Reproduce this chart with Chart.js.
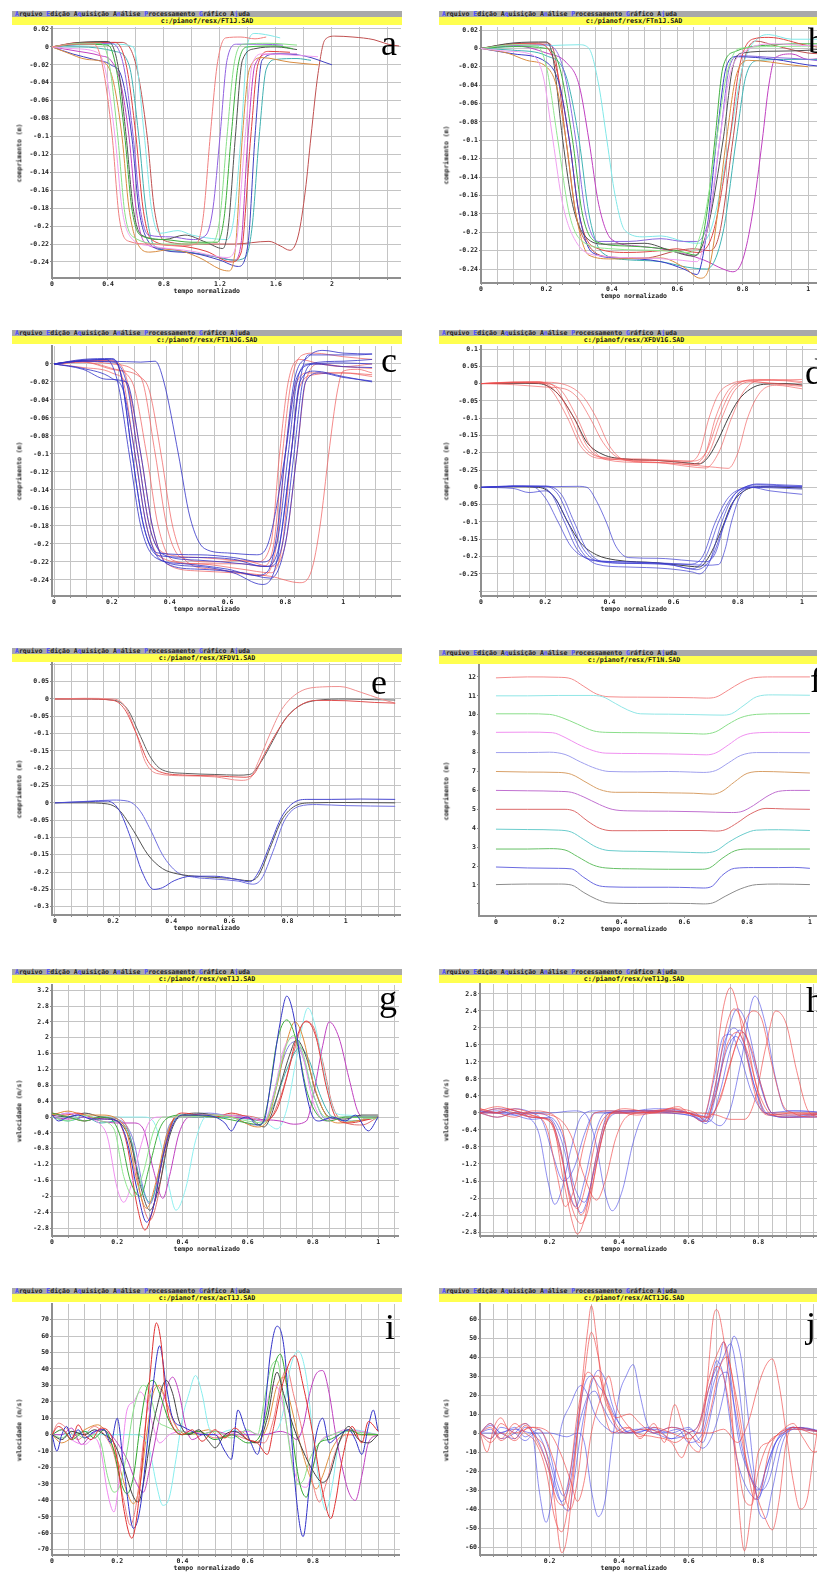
<!DOCTYPE html>
<html>
<head>
<meta charset="utf-8">
<script src="https://cdn.jsdelivr.net/npm/chart.js@4.4.0/dist/chart.umd.min.js"></script>
<style>
  html, body { margin: 0; padding: 0; background: #fff; }
  body { width: 817px; height: 1572px; overflow: hidden; position: relative; }
  .menu { position: absolute; width: 390px; height: 6px; background: #a9a9a9; font: bold 6.5px 'DejaVu Sans Mono', monospace; line-height: 6px; color: #222; white-space: pre; padding-left: 3px; box-sizing: border-box; }
  .menu b { color: #4a4aff; }
  .file { position: absolute; width: 390px; height: 8px; background: #ffff50; font: bold 6.7px 'DejaVu Sans Mono', monospace; line-height: 8px; text-align: center; color: #111; }
  canvas { position: absolute; }
  .xtitle, .ytitle { position: absolute; font: bold 6.5px 'DejaVu Sans Mono', monospace; line-height: 8px; color: #222; white-space: nowrap; }
  .letter { position: absolute; font: 36px 'Liberation Serif', 'Times New Roman', serif; line-height: 1; color: #000; }
</style>
</head>
<body>
<script>
// ---- comprimento (m) x tempo normalizado, FT1J ----
const xLabelsA = [0, 0.4, 0.8, 1.2, 1.6, 2];
const yLabelsA = [0.02, 0, -0.02, -0.04, -0.06, -0.08, -0.1, -0.12, -0.14, -0.16, -0.18, -0.2, -0.22, -0.24];
const lenA = [
  [0,0, 0.15,0.003, 0.3,0.003, 0.36,-0.02, 0.43,-0.1, 0.48,-0.19, 0.55,-0.217, 0.7,-0.22, 0.9,-0.222, 1.03,-0.22, 1.08,-0.19, 1.13,-0.1, 1.18,-0.02, 1.24,0.01, 1.35,0.011, 1.45,0.009, 1.53,0.011],
  [0,0, 0.15,-0.002, 0.32,-0.006, 0.38,-0.025, 0.45,-0.1, 0.5,-0.18, 0.56,-0.212, 0.7,-0.222, 1.0,-0.228, 1.25,-0.235, 1.31,-0.225, 1.38,-0.1, 1.43,-0.02, 1.5,-0.008, 1.7,-0.009, 1.9,-0.011],
  [0,0, 0.2,0.004, 0.35,0.004, 0.41,-0.02, 0.47,-0.1, 0.52,-0.185, 0.58,-0.212, 0.8,-0.22, 1.0,-0.22, 1.15,-0.218, 1.2,-0.19, 1.25,-0.1, 1.3,-0.02, 1.37,0.003, 1.55,0.004, 1.75,0.002],
  [0,0, 0.1,-0.006, 0.25,-0.014, 0.38,-0.018, 0.44,-0.04, 0.5,-0.1, 0.55,-0.18, 0.62,-0.222, 0.7,-0.229, 0.85,-0.226, 1.05,-0.235, 1.2,-0.248, 1.26,-0.25, 1.31,-0.225, 1.36,-0.1, 1.41,-0.025, 1.5,-0.012, 1.7,-0.017, 1.9,-0.02],
  [0,0, 0.2,0.003, 0.4,0.002, 0.46,-0.025, 0.52,-0.1, 0.57,-0.18, 0.63,-0.21, 0.8,-0.215, 1.0,-0.218, 1.18,-0.218, 1.23,-0.19, 1.28,-0.1, 1.33,-0.02, 1.4,0.0, 1.6,0.001, 1.72,-0.002],
  [0,0, 0.2,0.005, 0.4,0.006, 0.47,-0.02, 0.53,-0.1, 0.58,-0.18, 0.64,-0.21, 0.8,-0.215, 0.95,-0.21, 1.1,-0.218, 1.22,-0.225, 1.26,-0.2, 1.31,-0.1, 1.36,-0.015, 1.45,-0.002, 1.6,0.0, 1.75,-0.003],
  [0,0, 0.15,-0.008, 0.3,-0.014, 0.42,-0.02, 0.5,-0.035, 0.57,-0.1, 0.62,-0.18, 0.68,-0.215, 0.8,-0.227, 1.0,-0.23, 1.2,-0.238, 1.33,-0.245, 1.4,-0.22, 1.45,-0.1, 1.5,-0.015, 1.6,-0.008, 1.8,-0.01, 2.0,-0.02],
  [0,0, 0.2,0.003, 0.42,0.004, 0.51,-0.02, 0.58,-0.1, 0.63,-0.18, 0.69,-0.21, 0.85,-0.212, 1.0,-0.215, 1.1,-0.21, 1.15,-0.18, 1.2,-0.1, 1.25,-0.015, 1.32,0.003, 1.5,0.003, 1.65,0.002],
  [0,0, 0.2,0.005, 0.45,0.005, 0.53,-0.02, 0.6,-0.1, 0.65,-0.18, 0.71,-0.215, 0.9,-0.222, 1.1,-0.228, 1.28,-0.24, 1.35,-0.23, 1.42,-0.1, 1.47,-0.02, 1.55,-0.005, 1.7,-0.006],
  [0,0, 0.2,0.002, 0.45,0.003, 0.58,0.0, 0.66,-0.1, 0.71,-0.18, 0.77,-0.208, 0.9,-0.205, 1.0,-0.21, 1.1,-0.213, 1.25,-0.215, 1.3,-0.19, 1.35,-0.1, 1.4,0.005, 1.45,0.015, 1.55,0.013, 1.63,0.01],
  [0,0, 0.2,0.0, 0.45,-0.005, 0.55,-0.02, 0.62,-0.1, 0.67,-0.18, 0.73,-0.222, 0.9,-0.228, 1.1,-0.232, 1.3,-0.238, 1.38,-0.235, 1.43,-0.2, 1.48,-0.1, 1.53,-0.025, 1.6,-0.014, 1.75,-0.013, 1.85,-0.015],
  [0,0, 0.2,0.004, 0.5,0.005, 0.6,-0.02, 0.68,-0.1, 0.73,-0.18, 0.8,-0.216, 1.0,-0.22, 1.3,-0.22, 1.55,-0.217, 1.63,-0.222, 1.7,-0.227, 1.76,-0.21, 1.81,-0.16, 1.85,-0.1, 1.9,-0.03, 1.95,0.008, 2.02,0.012, 2.15,0.011, 2.3,0.008, 2.4,0.003, 2.48,0.001],
  [0,0, 0.15,-0.004, 0.35,-0.01, 0.42,-0.015, 0.49,-0.04, 0.55,-0.1, 0.6,-0.18, 0.66,-0.218, 0.8,-0.225, 1.0,-0.23, 1.2,-0.235, 1.3,-0.238, 1.35,-0.22, 1.4,-0.1, 1.45,-0.02, 1.55,-0.008, 1.75,-0.008]
];
const colorsA = ['#f08080', '#f0a0f0', '#88e088', '#d98c40', '#3cb03c', '#505050', '#4040c0', '#9060e0', '#e04040', '#80e8e8', '#40b0b0', '#c05050', '#c040c0'];

// ---- FTn1J ----
const xLabelsB = [0, 0.2, 0.4, 0.6, 0.8, 1];
const yLabelsB = yLabelsA;
const lenB = [
  [0,0, 0.08,-0.003, 0.15,-0.006, 0.19,-0.03, 0.22,-0.1, 0.25,-0.17, 0.29,-0.21, 0.35,-0.225, 0.5,-0.228, 0.6,-0.23, 0.66,-0.232, 0.69,-0.2, 0.73,-0.1, 0.76,-0.03, 0.8,-0.005, 0.9,0.005, 1.0,0.003, 1.06,0.004],
  [0,0, 0.1,0.004, 0.17,0.003, 0.2,-0.02, 0.235,-0.1, 0.27,-0.18, 0.31,-0.21, 0.4,-0.218, 0.55,-0.22, 0.64,-0.222, 0.68,-0.19, 0.72,-0.1, 0.75,-0.03, 0.79,0.0, 0.9,0.002, 1.06,0.003],
  [0,0, 0.08,-0.005, 0.14,-0.013, 0.2,-0.02, 0.23,-0.04, 0.26,-0.1, 0.29,-0.18, 0.33,-0.225, 0.4,-0.229, 0.55,-0.228, 0.62,-0.238, 0.67,-0.25, 0.7,-0.235, 0.75,-0.1, 0.78,-0.03, 0.82,-0.013, 0.95,-0.018, 1.0,-0.02],
  [0,0, 0.1,0.006, 0.2,0.007, 0.22,-0.01, 0.25,-0.1, 0.28,-0.17, 0.32,-0.205, 0.38,-0.213, 0.5,-0.212, 0.58,-0.22, 0.65,-0.226, 0.69,-0.2, 0.74,-0.1, 0.77,-0.02, 0.8,-0.005, 0.9,-0.003, 1.0,-0.002, 1.06,0.0],
  [0,0, 0.1,-0.006, 0.2,-0.015, 0.24,-0.04, 0.27,-0.1, 0.3,-0.18, 0.34,-0.222, 0.42,-0.228, 0.55,-0.232, 0.62,-0.24, 0.66,-0.246, 0.69,-0.2, 0.72,-0.1, 0.75,-0.02, 0.78,-0.009, 0.9,-0.012, 1.0,-0.018, 1.06,-0.02],
  [0,0, 0.1,0.005, 0.17,0.005, 0.22,-0.01, 0.27,-0.1, 0.3,-0.18, 0.34,-0.215, 0.45,-0.222, 0.55,-0.22, 0.6,-0.218, 0.66,-0.222, 0.71,-0.2, 0.76,-0.1, 0.79,-0.02, 0.83,0.01, 0.88,0.012, 1.0,0.003, 1.06,0.0],
  [0,0, 0.1,0.002, 0.2,0.0, 0.24,-0.02, 0.28,-0.1, 0.31,-0.18, 0.35,-0.21, 0.45,-0.215, 0.6,-0.22, 0.66,-0.225, 0.69,-0.18, 0.715,-0.1, 0.74,-0.02, 0.78,-0.003, 0.9,0.004, 1.0,0.005, 1.06,0.005],
  [0,0, 0.1,0.003, 0.2,0.004, 0.25,-0.02, 0.29,-0.1, 0.32,-0.18, 0.36,-0.21, 0.45,-0.21, 0.55,-0.207, 0.62,-0.21, 0.66,-0.21, 0.7,-0.18, 0.73,-0.1, 0.76,-0.02, 0.79,-0.008, 0.9,-0.01, 1.0,-0.012, 1.06,-0.015],
  [0,0, 0.1,-0.002, 0.2,-0.008, 0.26,-0.03, 0.3,-0.1, 0.33,-0.18, 0.37,-0.222, 0.45,-0.23, 0.55,-0.232, 0.63,-0.238, 0.69,-0.24, 0.74,-0.2, 0.78,-0.1, 0.81,-0.03, 0.85,-0.013, 0.95,-0.012, 1.06,-0.012],
  [0,0, 0.1,0.003, 0.2,-0.005, 0.26,-0.015, 0.3,-0.04, 0.33,-0.1, 0.36,-0.17, 0.4,-0.208, 0.48,-0.215, 0.58,-0.22, 0.68,-0.23, 0.74,-0.24, 0.77,-0.243, 0.8,-0.23, 0.83,-0.18, 0.86,-0.1, 0.88,-0.04, 0.9,-0.01, 0.95,-0.006, 1.0,-0.012, 1.06,-0.01],
  [0,0, 0.1,0.002, 0.2,0.003, 0.3,0.004, 0.33,0.0, 0.36,-0.04, 0.385,-0.1, 0.41,-0.16, 0.44,-0.198, 0.5,-0.205, 0.55,-0.204, 0.62,-0.21, 0.66,-0.212, 0.7,-0.2, 0.76,-0.1, 0.8,-0.02, 0.85,0.012, 0.88,0.015, 0.95,0.01, 1.06,0.01],
  [0,0, 0.1,0.005, 0.2,0.006, 0.22,0.0, 0.26,-0.1, 0.29,-0.18, 0.33,-0.215, 0.4,-0.227, 0.5,-0.228, 0.6,-0.22, 0.65,-0.218, 0.7,-0.22, 0.73,-0.2, 0.77,-0.1, 0.8,-0.02, 0.84,0.008, 0.9,0.003, 1.0,-0.005, 1.06,-0.006]
];
const colorsB = ['#f0a0f0', '#90e890', '#d98c40', '#505050', '#3a3ac8', '#e04848', '#40b040', '#8c6ce0', '#40b4b4', '#c040c0', '#80e8e8', '#c05050'];

// ---- FT1NJG: azul / vermelho ----
const xLabelsC = [0, 0.2, 0.4, 0.6, 0.8, 1];
const yLabelsC = [0, -0.02, -0.04, -0.06, -0.08, -0.1, -0.12, -0.14, -0.16, -0.18, -0.2, -0.22, -0.24];
const lenC = [
  [0,0, 0.1,0.004, 0.18,0.005, 0.22,-0.02, 0.26,-0.1, 0.3,-0.18, 0.35,-0.215, 0.45,-0.222, 0.6,-0.228, 0.7,-0.235, 0.74,-0.23, 0.77,-0.19, 0.8,-0.1, 0.83,-0.02, 0.88,0.008, 0.93,0.015, 1.0,0.012, 1.1,0.011],
  [0,0, 0.1,0.005, 0.2,0.006, 0.23,-0.01, 0.27,-0.1, 0.31,-0.18, 0.36,-0.21, 0.5,-0.212, 0.62,-0.215, 0.72,-0.22, 0.77,-0.2, 0.81,-0.1, 0.84,-0.02, 0.88,0.0, 1.0,0.003, 1.1,0.005],
  [0,0, 0.1,-0.005, 0.2,-0.016, 0.24,-0.03, 0.28,-0.1, 0.32,-0.18, 0.37,-0.218, 0.5,-0.225, 0.62,-0.232, 0.72,-0.245, 0.77,-0.22, 0.82,-0.1, 0.85,-0.02, 0.9,-0.008, 1.0,-0.014, 1.1,-0.02],
  [0,0, 0.1,0.003, 0.2,0.002, 0.25,-0.02, 0.29,-0.1, 0.33,-0.18, 0.38,-0.212, 0.5,-0.218, 0.65,-0.222, 0.74,-0.225, 0.79,-0.2, 0.83,-0.1, 0.86,-0.02, 0.9,0.0, 1.0,-0.003, 1.1,-0.004],
  [0,0, 0.1,-0.006, 0.18,-0.017, 0.25,-0.02, 0.3,-0.1, 0.34,-0.18, 0.39,-0.222, 0.5,-0.228, 0.65,-0.232, 0.75,-0.238, 0.8,-0.2, 0.84,-0.1, 0.87,-0.02, 0.92,-0.01, 1.0,-0.015, 1.1,-0.019],
  [0,0, 0.1,0.003, 0.2,0.003, 0.3,0.002, 0.35,0.003, 0.38,-0.02, 0.43,-0.1, 0.47,-0.17, 0.52,-0.205, 0.6,-0.21, 0.7,-0.212, 0.74,-0.2, 0.8,-0.1, 0.84,-0.015, 0.9,0.0, 1.0,0.001, 1.1,0.0],
  [0,0, 0.1,0.004, 0.2,0.005, 0.23,-0.01, 0.27,-0.1, 0.31,-0.18, 0.36,-0.213, 0.5,-0.215, 0.62,-0.217, 0.73,-0.225, 0.78,-0.2, 0.82,-0.1, 0.85,-0.02, 0.88,0.01, 0.95,0.01, 1.05,0.01, 1.1,0.011],
  [0,0, 0.1,0.003, 0.2,0.004, 0.24,-0.02, 0.28,-0.1, 0.32,-0.18, 0.37,-0.215, 0.5,-0.222, 0.65,-0.222, 0.72,-0.225, 0.76,-0.2, 0.79,-0.1, 0.82,-0.02, 0.86,0.01, 0.9,0.012, 1.0,0.008, 1.1,0.005],
  [0,0, 0.1,-0.004, 0.2,-0.01, 0.26,-0.03, 0.3,-0.1, 0.34,-0.18, 0.39,-0.222, 0.5,-0.23, 0.62,-0.232, 0.72,-0.235, 0.77,-0.2, 0.8,-0.1, 0.83,-0.03, 0.88,-0.01, 1.0,-0.01, 1.1,-0.012],
  [0,0, 0.1,0.002, 0.2,-0.005, 0.27,-0.02, 0.32,-0.1, 0.36,-0.18, 0.41,-0.218, 0.5,-0.222, 0.65,-0.228, 0.75,-0.232, 0.79,-0.2, 0.82,-0.1, 0.85,-0.025, 0.9,-0.012, 1.0,-0.01, 1.1,-0.014],
  [0,0, 0.1,0.003, 0.2,0.0, 0.3,-0.015, 0.35,-0.1, 0.39,-0.18, 0.44,-0.215, 0.55,-0.22, 0.65,-0.218, 0.75,-0.225, 0.8,-0.2, 0.84,-0.1, 0.87,-0.02, 0.92,0.0, 1.0,-0.003, 1.1,-0.005],
  [0,0, 0.1,0.002, 0.2,-0.006, 0.3,-0.015, 0.33,-0.03, 0.37,-0.1, 0.41,-0.18, 0.46,-0.22, 0.55,-0.228, 0.65,-0.232, 0.75,-0.236, 0.85,-0.243, 0.89,-0.23, 0.92,-0.18, 0.95,-0.1, 0.98,-0.03, 1.0,-0.008, 1.05,-0.006, 1.1,-0.01],
  [0,0, 0.1,0.004, 0.2,0.003, 0.25,-0.015, 0.29,-0.1, 0.33,-0.18, 0.38,-0.21, 0.5,-0.215, 0.62,-0.218, 0.7,-0.22, 0.75,-0.2, 0.78,-0.1, 0.81,-0.02, 0.85,0.005, 0.92,0.0, 1.0,-0.003, 1.1,0.0]
];
const colorsC = ['rgba(50,50,200,0.8)', 'rgba(50,50,200,0.8)', 'rgba(50,50,200,0.8)', 'rgba(50,50,200,0.8)', 'rgba(50,50,200,0.8)', 'rgba(50,50,200,0.8)', 'rgba(50,50,200,0.8)',
                 'rgba(240,90,90,0.7)', 'rgba(240,90,90,0.7)', 'rgba(240,90,90,0.7)', 'rgba(240,90,90,0.7)', 'rgba(240,90,90,0.7)', 'rgba(240,90,90,0.7)'];

// ---- XFDV1G: grupo de cima e grupo de baixo (deslocado de -0.3) ----
const GROUP_SHIFT = -0.3;
const xLabelsD = [0, 0.2, 0.4, 0.6, 0.8, 1];
const yTicksD = [0.1, 0.05, 0, -0.05, -0.1, -0.15, -0.2, -0.25, -0.3, -0.35, -0.4, -0.45, -0.5, -0.55];
const yTextD = ['0.1', '0.05', '0', '-0.05', '-0.1', '-0.15', '-0.2', '-0.25', '0', '-0.05', '-0.1', '-0.15', '-0.2', '-0.25'];
const lenDUpper = [
  [0,0, 0.1,0.003, 0.18,0.004, 0.22,-0.02, 0.27,-0.1, 0.31,-0.18, 0.36,-0.215, 0.45,-0.22, 0.55,-0.222, 0.65,-0.225, 0.68,-0.2, 0.71,-0.1, 0.74,-0.03, 0.78,0.0, 0.82,0.008, 0.9,0.01, 1.0,0.012],
  [0,0, 0.1,0.005, 0.18,0.006, 0.23,-0.02, 0.29,-0.1, 0.33,-0.18, 0.38,-0.215, 0.5,-0.222, 0.6,-0.225, 0.66,-0.232, 0.7,-0.2, 0.73,-0.1, 0.77,-0.02, 0.82,0.008, 0.86,0.012, 0.95,0.01, 1.0,0.006],
  [0,0, 0.1,0.002, 0.2,0.0, 0.25,-0.02, 0.3,-0.1, 0.34,-0.18, 0.39,-0.22, 0.5,-0.228, 0.6,-0.23, 0.67,-0.235, 0.71,-0.2, 0.75,-0.1, 0.79,-0.02, 0.84,0.005, 0.9,0.002, 1.0,-0.005],
  [0,0, 0.1,-0.003, 0.2,-0.01, 0.26,-0.015, 0.3,-0.04, 0.34,-0.1, 0.38,-0.17, 0.43,-0.215, 0.55,-0.228, 0.65,-0.24, 0.7,-0.244, 0.74,-0.2, 0.78,-0.1, 0.82,-0.02, 0.87,0.01, 0.95,0.008, 1.0,0.002],
  [0,0, 0.1,0.003, 0.2,0.004, 0.28,-0.01, 0.32,-0.04, 0.36,-0.1, 0.4,-0.18, 0.45,-0.222, 0.55,-0.228, 0.65,-0.235, 0.73,-0.242, 0.77,-0.245, 0.8,-0.2, 0.83,-0.1, 0.87,-0.025, 0.92,-0.005, 1.0,-0.015],
  [0,0, 0.1,0.004, 0.2,0.003, 0.24,-0.02, 0.28,-0.1, 0.32,-0.18, 0.37,-0.212, 0.5,-0.218, 0.6,-0.222, 0.66,-0.224, 0.7,-0.2, 0.74,-0.1, 0.78,-0.02, 0.83,0.008, 0.9,0.0, 1.0,-0.008],
  [0,0, 0.1,0.001, 0.18,0.0, 0.24,-0.03, 0.29,-0.1, 0.33,-0.17, 0.38,-0.205, 0.45,-0.218, 0.55,-0.222, 0.65,-0.23, 0.68,-0.232, 0.71,-0.21, 0.74,-0.16, 0.77,-0.1, 0.8,-0.05, 0.84,-0.015, 0.88,-0.002, 0.95,0.0, 1.0,-0.004]
];
const lenDLower = [
  [0,0, 0.1,0.003, 0.16,0.002, 0.2,-0.03, 0.24,-0.1, 0.28,-0.17, 0.33,-0.205, 0.42,-0.215, 0.55,-0.218, 0.65,-0.222, 0.69,-0.2, 0.73,-0.1, 0.77,-0.03, 0.82,0.0, 0.86,0.01, 0.92,0.008, 1.0,0.005],
  [0,0, 0.1,0.004, 0.18,0.003, 0.22,-0.02, 0.26,-0.1, 0.3,-0.18, 0.35,-0.212, 0.45,-0.215, 0.58,-0.222, 0.66,-0.235, 0.7,-0.2, 0.74,-0.1, 0.78,-0.03, 0.82,0.0, 0.87,0.008, 0.95,0.004, 1.0,0.003],
  [0,0, 0.1,-0.003, 0.15,-0.015, 0.2,-0.01, 0.23,-0.03, 0.27,-0.1, 0.31,-0.18, 0.36,-0.222, 0.45,-0.23, 0.58,-0.235, 0.66,-0.245, 0.68,-0.25, 0.71,-0.22, 0.75,-0.1, 0.79,-0.02, 0.84,0.0, 0.9,-0.01, 1.0,-0.02],
  [0,0, 0.1,0.003, 0.2,0.003, 0.24,-0.02, 0.28,-0.1, 0.32,-0.18, 0.37,-0.215, 0.48,-0.22, 0.6,-0.225, 0.67,-0.238, 0.72,-0.2, 0.76,-0.1, 0.8,-0.02, 0.85,0.0, 0.92,0.002, 1.0,0.0],
  [0,0, 0.1,0.003, 0.2,0.002, 0.3,0.003, 0.33,0.0, 0.36,-0.04, 0.39,-0.1, 0.42,-0.17, 0.46,-0.203, 0.55,-0.205, 0.65,-0.212, 0.7,-0.215, 0.73,-0.19, 0.76,-0.1, 0.8,-0.02, 0.84,0.003, 0.9,0.004, 1.0,0.002],
  [0,0, 0.1,0.004, 0.2,0.004, 0.25,-0.02, 0.29,-0.1, 0.33,-0.18, 0.38,-0.215, 0.5,-0.22, 0.62,-0.222, 0.7,-0.225, 0.74,-0.223, 0.76,-0.18, 0.78,-0.1, 0.81,-0.02, 0.85,0.0, 0.95,-0.003, 1.0,-0.005],
  [0,0, 0.1,0.002, 0.18,0.0, 0.23,-0.03, 0.27,-0.1, 0.31,-0.16, 0.36,-0.195, 0.42,-0.21, 0.55,-0.218, 0.65,-0.228, 0.68,-0.23, 0.71,-0.2, 0.75,-0.12, 0.78,-0.05, 0.82,-0.01, 0.87,0.002, 0.95,0.0, 1.0,-0.002]
];
const colorsDUpper = ['rgba(240,80,80,0.6)', 'rgba(240,80,80,0.6)', 'rgba(240,80,80,0.6)', 'rgba(240,80,80,0.6)', 'rgba(240,80,80,0.6)', 'rgba(240,80,80,0.6)', '#404040'];
const colorsDLower = ['rgba(60,60,210,0.7)', 'rgba(60,60,210,0.7)', 'rgba(60,60,210,0.7)', 'rgba(60,60,210,0.7)', 'rgba(60,60,210,0.7)', 'rgba(60,60,210,0.7)', '#404040'];

// ---- XFDV1 ----
const xLabelsE = [0, 0.2, 0.4, 0.6, 0.8, 1];
const yTicksE = [0.05, 0, -0.05, -0.1, -0.15, -0.2, -0.25, -0.3, -0.35, -0.4, -0.45, -0.5, -0.55, -0.6];
const yTextE = ['0.05', '0', '-0.05', '-0.1', '-0.15', '-0.2', '-0.25', '0', '-0.05', '-0.1', '-0.15', '-0.2', '-0.25', '-0.3'];
const lenEUpper = [
  [0,0, 0.1,0.0, 0.2,-0.004, 0.24,-0.03, 0.28,-0.1, 0.32,-0.18, 0.36,-0.21, 0.45,-0.22, 0.55,-0.222, 0.65,-0.226, 0.68,-0.22, 0.72,-0.16, 0.76,-0.1, 0.8,-0.05, 0.85,-0.015, 0.9,-0.004, 1.0,-0.005, 1.1,-0.01, 1.17,-0.012],
  [0,0, 0.1,0.002, 0.2,0.0, 0.24,-0.02, 0.28,-0.1, 0.31,-0.18, 0.35,-0.215, 0.45,-0.222, 0.55,-0.225, 0.64,-0.235, 0.67,-0.23, 0.7,-0.18, 0.74,-0.1, 0.78,-0.03, 0.84,0.02, 0.92,0.035, 0.98,0.036, 1.05,0.02, 1.12,0.0, 1.17,-0.012],
  [0,0, 0.1,0.0, 0.2,-0.003, 0.25,-0.03, 0.29,-0.1, 0.33,-0.17, 0.37,-0.205, 0.45,-0.215, 0.55,-0.218, 0.63,-0.22, 0.67,-0.218, 0.71,-0.18, 0.75,-0.12, 0.79,-0.06, 0.84,-0.02, 0.9,-0.004, 1.0,0.0, 1.1,-0.002, 1.17,-0.003]
];
const lenELower = [
  [0,0, 0.1,0.003, 0.18,0.005, 0.22,-0.02, 0.26,-0.1, 0.3,-0.2, 0.34,-0.25, 0.37,-0.245, 0.41,-0.225, 0.47,-0.212, 0.55,-0.212, 0.63,-0.222, 0.67,-0.228, 0.7,-0.2, 0.74,-0.12, 0.78,-0.04, 0.82,0.0, 0.87,0.01, 0.95,0.01, 1.05,0.011, 1.17,0.01],
  [0,0, 0.1,0.0, 0.18,-0.003, 0.22,-0.02, 0.27,-0.08, 0.32,-0.15, 0.37,-0.19, 0.42,-0.205, 0.5,-0.213, 0.6,-0.218, 0.67,-0.225, 0.7,-0.21, 0.74,-0.13, 0.78,-0.05, 0.82,-0.012, 0.88,0.0, 1.0,0.001, 1.17,0.0],
  [0,0, 0.1,0.004, 0.2,0.008, 0.25,0.005, 0.29,-0.02, 0.33,-0.08, 0.37,-0.15, 0.42,-0.2, 0.48,-0.215, 0.55,-0.22, 0.63,-0.226, 0.68,-0.235, 0.71,-0.22, 0.75,-0.14, 0.79,-0.05, 0.84,-0.01, 0.9,-0.005, 1.0,-0.008, 1.17,-0.01]
];
const colorsEUpper = ['#e05050', '#f09090', '#606060'];
const colorsELower = ['#4848d0', '#505050', '#7070e0'];

// ---- FT1N: doze ensaios empilhados ----
const xLabelsF = [0, 0.2, 0.4, 0.6, 0.8, 1];
const yTicksF = [0, 1, 2, 3, 4, 5, 6, 7, 8, 9, 10, 11, 12];
const yTextF = ['', '1', '2', '3', '4', '5', '6', '7', '8', '9', '10', '11', '12'];
const lenF = [
  [0,1.02, 0.1,1.05, 0.2,1.05, 0.24,1.0, 0.28,0.6, 0.32,0.25, 0.36,0.05, 0.45,0.02, 0.55,0.03, 0.62,0.02, 0.66,0.0, 0.69,0.05, 0.73,0.4, 0.78,0.8, 0.83,1.02, 0.9,1.05, 1.0,1.02],
  [0,1.95, 0.1,1.9, 0.2,1.88, 0.24,1.85, 0.28,1.4, 0.32,1.0, 0.36,0.9, 0.45,0.88, 0.55,0.88, 0.62,0.86, 0.66,0.84, 0.69,0.95, 0.72,1.5, 0.76,1.88, 0.82,1.92, 0.9,1.92, 0.95,1.93, 1.0,1.88],
  [0,2.9, 0.1,2.9, 0.17,2.92, 0.22,2.85, 0.26,2.5, 0.31,2.05, 0.35,1.9, 0.45,1.85, 0.55,1.83, 0.65,1.83, 0.68,1.9, 0.72,2.4, 0.76,2.8, 0.8,2.9, 0.9,2.9, 1.0,2.9],
  [0,3.95, 0.1,3.93, 0.2,3.9, 0.24,3.8, 0.28,3.4, 0.32,3.0, 0.36,2.82, 0.45,2.78, 0.55,2.75, 0.62,2.72, 0.66,2.7, 0.7,2.8, 0.74,3.25, 0.79,3.7, 0.83,3.9, 0.9,3.92, 1.0,3.88],
  [0,5.0, 0.1,5.0, 0.22,5.0, 0.25,4.9, 0.29,4.4, 0.33,4.0, 0.37,3.87, 0.45,3.87, 0.55,3.88, 0.65,3.88, 0.7,3.85, 0.73,3.92, 0.77,4.3, 0.81,4.75, 0.86,5.05, 0.92,5.02, 1.0,5.0],
  [0,6.0, 0.1,5.98, 0.2,5.95, 0.24,5.9, 0.28,5.65, 0.33,5.25, 0.37,5.0, 0.42,4.92, 0.55,4.9, 0.65,4.87, 0.75,4.83, 0.78,4.87, 0.82,5.2, 0.86,5.65, 0.9,5.95, 0.95,6.0, 1.0,6.0],
  [0,7.0, 0.1,6.97, 0.2,6.95, 0.24,6.85, 0.29,6.4, 0.33,6.05, 0.38,5.9, 0.45,5.9, 0.55,5.87, 0.63,5.85, 0.69,5.8, 0.72,5.95, 0.76,6.45, 0.8,6.9, 0.85,7.0, 0.92,6.97, 1.0,6.92],
  [0,8.0, 0.1,8.0, 0.17,8.02, 0.22,7.9, 0.27,7.5, 0.32,7.15, 0.36,7.0, 0.45,6.98, 0.55,7.0, 0.62,6.97, 0.66,6.95, 0.7,7.05, 0.74,7.45, 0.78,7.85, 0.83,8.0, 0.9,8.0, 1.0,7.99],
  [0,9.07, 0.1,9.08, 0.18,9.05, 0.22,8.8, 0.26,8.45, 0.31,8.1, 0.35,7.97, 0.45,7.95, 0.55,7.93, 0.63,7.9, 0.67,7.88, 0.7,7.98, 0.74,8.4, 0.78,8.85, 0.82,9.03, 0.9,9.07, 1.0,9.06],
  [0,10.05, 0.1,10.05, 0.17,10.02, 0.21,9.85, 0.26,9.5, 0.31,9.15, 0.35,9.07, 0.45,9.05, 0.55,9.03, 0.63,9.0, 0.66,8.98, 0.7,9.1, 0.74,9.5, 0.78,9.85, 0.83,10.02, 0.9,10.05, 1.0,10.06],
  [0,11.0, 0.1,11.0, 0.2,11.02, 0.3,11.02, 0.34,10.95, 0.38,10.6, 0.42,10.25, 0.46,10.05, 0.55,10.03, 0.65,10.0, 0.72,9.98, 0.75,10.05, 0.79,10.5, 0.83,10.95, 0.88,11.05, 1.0,11.03],
  [0,11.95, 0.1,12.0, 0.2,11.98, 0.24,11.9, 0.28,11.5, 0.32,11.1, 0.36,10.95, 0.45,10.93, 0.55,10.92, 0.63,10.9, 0.67,10.88, 0.7,10.93, 0.74,11.3, 0.78,11.7, 0.82,11.95, 0.88,12.0, 1.0,12.0]
];
const colorsF = ['#8c8c8c', '#6a6ae0', '#66c066', '#6acccc', '#dc6a6a', '#c070d0', '#d8a068', '#a0a0ee', '#f090f0', '#8ade8a', '#90e6e6', '#f48c8c'];

// ---- velocidade (m/s), veT1J ----
const xLabelsG = [0, 0.2, 0.4, 0.6, 0.8, 1];
const yLabelsG = [3.2, 2.8, 2.4, 2, 1.6, 1.2, 0.8, 0.4, 0, -0.4, -0.8, -1.2, -1.6, -2, -2.4, -2.8];
const velG = [
  [0,0.05, 0.02,-0.1, 0.05,0.0, 0.08,0.05, 0.12,-0.05, 0.16,-0.05, 0.2,-0.1, 0.23,-0.6, 0.26,-1.8, 0.29,-2.65, 0.31,-2.3, 0.34,-1.0, 0.37,-0.2, 0.4,0.05, 0.45,0.05, 0.5,0.0, 0.53,-0.15, 0.55,-0.35, 0.57,-0.1, 0.6,0.0, 0.63,-0.2, 0.65,-0.1, 0.67,0.8, 0.7,2.4, 0.72,3.05, 0.74,2.6, 0.77,1.0, 0.8,0.0, 0.82,-0.1, 0.86,0.0, 0.9,-0.1, 0.93,0.05, 0.97,-0.35, 1.0,0.0],
  [0,0.1, 0.05,0.0, 0.1,-0.1, 0.15,0.0, 0.18,-0.05, 0.21,-0.5, 0.24,-1.6, 0.27,-2.0, 0.3,-1.2, 0.33,-0.3, 0.36,0.0, 0.4,0.05, 0.5,0.0, 0.6,-0.15, 0.64,-0.2, 0.66,0.3, 0.69,1.9, 0.72,2.45, 0.75,1.9, 0.78,0.7, 0.81,0.1, 0.85,-0.1, 0.9,0.0, 1.0,0.0],
  [0,0.0, 0.05,-0.1, 0.1,0.05, 0.15,-0.1, 0.19,-0.3, 0.22,-1.5, 0.25,-2.0, 0.28,-1.4, 0.31,-0.4, 0.34,0.0, 0.4,0.0, 0.5,0.05, 0.6,-0.1, 0.65,-0.15, 0.68,0.5, 0.71,1.6, 0.74,2.05, 0.77,1.6, 0.8,0.6, 0.84,0.0, 0.9,0.0, 1.0,-0.05],
  [0,0.0, 0.05,0.1, 0.1,0.0, 0.15,-0.2, 0.17,-0.5, 0.2,-1.8, 0.22,-2.15, 0.24,-1.8, 0.27,-0.8, 0.3,-0.1, 0.33,0.0, 0.4,0.0, 0.5,0.05, 0.6,0.0, 0.65,-0.1, 0.68,0.6, 0.71,1.7, 0.74,2.0, 0.77,1.5, 0.8,0.4, 0.84,-0.1, 0.9,0.0, 1.0,0.0],
  [0,0.1, 0.04,0.05, 0.08,0.1, 0.12,0.0, 0.16,-0.05, 0.2,-0.1, 0.23,-0.7, 0.26,-2.2, 0.285,-2.85, 0.31,-2.3, 0.34,-1.0, 0.37,-0.1, 0.4,0.1, 0.45,0.05, 0.5,0.0, 0.55,0.1, 0.6,0.0, 0.65,-0.1, 0.69,0.2, 0.72,1.0, 0.75,2.0, 0.78,2.42, 0.81,2.0, 0.84,0.8, 0.87,0.0, 0.91,-0.15, 0.95,-0.1, 1.0,0.0],
  [0,0.05, 0.05,0.15, 0.1,0.05, 0.15,0.05, 0.2,-0.05, 0.23,-0.4, 0.26,-1.6, 0.29,-2.3, 0.32,-1.6, 0.35,-0.5, 0.38,0.0, 0.45,0.05, 0.55,0.0, 0.63,-0.25, 0.66,-0.1, 0.69,0.8, 0.72,1.9, 0.745,2.4, 0.77,2.0, 0.8,0.9, 0.84,0.05, 0.88,-0.15, 0.93,-0.1, 1.0,0.0],
  [0,0.05, 0.05,0.0, 0.1,0.1, 0.15,0.0, 0.2,-0.1, 0.24,-0.6, 0.27,-1.7, 0.3,-2.35, 0.33,-1.7, 0.36,-0.5, 0.39,0.0, 0.45,0.1, 0.5,0.05, 0.6,0.0, 0.65,-0.25, 0.67,0.0, 0.7,0.8, 0.73,1.6, 0.75,1.95, 0.78,1.5, 0.81,0.6, 0.85,0.0, 0.9,-0.05, 0.95,0.05, 1.0,0.05],
  [0,0.0, 0.05,-0.05, 0.1,0.0, 0.15,-0.1, 0.2,-0.15, 0.25,-0.15, 0.28,-0.3, 0.31,-1.3, 0.34,-2.05, 0.36,-1.5, 0.39,-0.4, 0.42,0.0, 0.48,0.05, 0.55,0.0, 0.62,-0.05, 0.7,-0.1, 0.74,-0.18, 0.78,-0.1, 0.8,0.5, 0.83,1.8, 0.85,2.4, 0.88,2.0, 0.91,1.0, 0.94,0.1, 0.97,-0.05, 1.0,0.0],
  [0,0.0, 0.1,0.0, 0.2,0.0, 0.28,0.0, 0.31,-0.1, 0.34,-0.9, 0.36,-1.8, 0.38,-2.35, 0.41,-1.8, 0.44,-0.6, 0.47,0.0, 0.5,0.05, 0.6,0.0, 0.65,-0.1, 0.69,-0.3, 0.72,0.2, 0.75,1.5, 0.785,2.75, 0.81,2.2, 0.84,0.9, 0.87,0.1, 0.9,0.05, 1.0,0.0],
  [0,0.0, 0.05,-0.1, 0.1,0.0, 0.15,-0.15, 0.2,-0.1, 0.24,-0.5, 0.27,-1.6, 0.3,-2.15, 0.33,-1.4, 0.36,-0.3, 0.4,0.0, 0.5,0.0, 0.6,-0.05, 0.65,-0.1, 0.68,0.3, 0.72,1.2, 0.76,1.75, 0.79,1.4, 0.82,0.6, 0.86,0.0, 0.92,-0.1, 1.0,0.0],
  [0,0.05, 0.05,0.0, 0.1,-0.1, 0.15,0.0, 0.2,0.0, 0.24,-0.5, 0.27,-1.9, 0.3,-2.6, 0.32,-2.2, 0.35,-0.8, 0.38,0.0, 0.45,0.0, 0.55,0.05, 0.62,0.0, 0.66,-0.1, 0.7,0.5, 0.74,1.6, 0.775,2.4, 0.8,2.3, 0.83,1.4, 0.86,0.3, 0.89,-0.1, 0.95,-0.2, 1.0,0.0],
  [0,0.0, 0.05,0.1, 0.1,-0.1, 0.15,0.0, 0.2,-0.05, 0.25,-0.6, 0.28,-1.8, 0.3,-2.2, 0.33,-1.3, 0.36,-0.2, 0.4,0.0, 0.48,0.1, 0.55,0.0, 0.62,-0.2, 0.66,0.0, 0.69,0.9, 0.72,1.7, 0.745,1.9, 0.77,1.5, 0.8,0.6, 0.84,-0.05, 0.9,0.0, 1.0,0.0]
];
const colorsG = ['#3434c8', '#40b040', '#90e890', '#f090f0', '#e03c3c', '#e08c3c', '#505050', '#c040c0', '#90f0f0', '#40b4b4', '#e07070', '#8080e0'];

// ---- veT1Jg: vermelho / azul ----
const xLabelsH = [0.2, 0.4, 0.6, 0.8];
const yLabelsH = [2.8, 2.4, 2, 1.6, 1.2, 0.8, 0.4, 0, -0.4, -0.8, -1.2, -1.6, -2, -2.4, -2.8];
const velHRed = [
  [0,0.1, 0.04,0.0, 0.08,0.1, 0.12,0.0, 0.17,-0.1, 0.21,-0.3, 0.24,-1.6, 0.27,-2.7, 0.28,-2.85, 0.3,-2.5, 0.33,-1.2, 0.36,-0.2, 0.4,0.05, 0.5,0.05, 0.6,0.0, 0.64,-0.1, 0.67,0.8, 0.7,2.5, 0.72,2.95, 0.74,2.5, 0.77,1.2, 0.8,0.2, 0.83,-0.05, 0.9,0.0, 1.0,0.0],
  [0,0.0, 0.05,0.1, 0.1,0.0, 0.15,-0.1, 0.2,-0.15, 0.23,-0.8, 0.26,-2.1, 0.29,-2.6, 0.31,-2.3, 0.34,-1.0, 0.37,-0.1, 0.42,0.1, 0.5,0.0, 0.55,0.1, 0.62,0.0, 0.65,-0.2, 0.68,0.8, 0.71,2.1, 0.73,2.45, 0.76,2.0, 0.79,0.8, 0.82,0.0, 0.88,-0.05, 1.0,0.0],
  [0,0.05, 0.05,0.15, 0.1,0.05, 0.15,-0.05, 0.19,-0.3, 0.22,-1.4, 0.245,-2.2, 0.27,-1.8, 0.3,-0.7, 0.33,0.0, 0.38,0.05, 0.45,-0.05, 0.52,0.05, 0.57,0.15, 0.6,0.0, 0.65,-0.1, 0.69,0.3, 0.72,1.2, 0.755,1.9, 0.78,1.5, 0.81,0.6, 0.84,0.0, 0.9,0.0, 1.0,-0.05],
  [0,0.0, 0.05,0.0, 0.1,0.1, 0.15,0.0, 0.22,-0.1, 0.26,-0.5, 0.3,-1.5, 0.335,-2.05, 0.36,-1.6, 0.39,-0.6, 0.42,-0.1, 0.46,0.0, 0.55,0.0, 0.62,0.0, 0.68,-0.05, 0.72,-0.15, 0.76,-0.15, 0.79,0.3, 0.82,1.5, 0.85,2.4, 0.88,2.1, 0.91,1.0, 0.94,0.1, 0.97,-0.1, 1.0,-0.3],
  [0,0.1, 0.05,0.0, 0.1,-0.1, 0.15,0.05, 0.2,0.0, 0.24,-0.5, 0.27,-1.9, 0.29,-2.4, 0.32,-1.8, 0.35,-0.6, 0.38,0.0, 0.45,0.0, 0.55,0.05, 0.62,-0.05, 0.66,-0.1, 0.7,0.6, 0.74,1.7, 0.785,2.4, 0.81,2.2, 0.84,1.1, 0.87,0.2, 0.9,0.0, 0.95,-0.1, 1.0,-0.05],
  [0,0.0, 0.05,-0.1, 0.1,0.0, 0.15,-0.1, 0.2,-0.2, 0.23,-0.9, 0.26,-2.0, 0.28,-2.25, 0.31,-1.5, 0.34,-0.4, 0.38,0.0, 0.45,0.0, 0.55,0.1, 0.6,0.0, 0.64,-0.2, 0.68,0.5, 0.71,1.6, 0.74,1.9, 0.77,1.4, 0.8,0.5, 0.84,-0.05, 0.9,-0.1, 1.0,0.0]
];
const velHBlue = [
  [0,0.0, 0.05,0.1, 0.1,0.05, 0.14,-0.1, 0.17,-0.5, 0.195,-1.6, 0.215,-2.15, 0.235,-1.8, 0.26,-0.9, 0.29,-0.1, 0.33,0.05, 0.4,0.05, 0.5,0.05, 0.6,0.0, 0.64,-0.15, 0.67,0.7, 0.7,1.8, 0.72,1.85, 0.75,1.3, 0.78,0.5, 0.82,0.0, 0.9,-0.1, 1.0,-0.05],
  [0,0.05, 0.05,0.0, 0.1,0.1, 0.15,0.0, 0.18,-0.2, 0.21,-1.0, 0.24,-1.6, 0.27,-1.3, 0.3,-0.5, 0.33,0.0, 0.4,0.0, 0.5,0.1, 0.6,0.0, 0.64,-0.2, 0.67,0.4, 0.7,1.6, 0.73,2.0, 0.76,1.6, 0.79,0.6, 0.82,0.0, 0.9,0.05, 1.0,0.0],
  [0,0.0, 0.05,-0.1, 0.1,0.0, 0.15,-0.1, 0.2,-0.15, 0.23,-0.8, 0.255,-1.8, 0.275,-2.2, 0.3,-1.6, 0.33,-0.5, 0.36,0.0, 0.45,0.05, 0.55,0.0, 0.62,-0.1, 0.65,-0.25, 0.68,0.5, 0.71,1.8, 0.74,2.45, 0.77,2.0, 0.8,0.9, 0.83,0.1, 0.87,-0.1, 0.95,-0.05, 1.0,0.0],
  [0,0.05, 0.05,0.0, 0.1,-0.05, 0.15,0.0, 0.2,-0.1, 0.24,-0.8, 0.27,-1.9, 0.29,-2.35, 0.31,-2.0, 0.34,-0.8, 0.37,0.0, 0.45,0.05, 0.55,0.05, 0.62,-0.05, 0.66,-0.2, 0.69,0.5, 0.72,1.5, 0.745,1.95, 0.77,1.7, 0.8,0.8, 0.84,0.0, 0.9,-0.05, 1.0,0.0],
  [0,0.0, 0.1,0.0, 0.2,0.0, 0.27,0.05, 0.3,0.0, 0.33,-0.6, 0.36,-1.9, 0.38,-2.3, 0.41,-1.8, 0.44,-0.7, 0.47,-0.05, 0.5,0.05, 0.6,0.0, 0.65,-0.1, 0.69,-0.3, 0.72,0.1, 0.75,1.2, 0.79,2.75, 0.82,2.1, 0.85,0.8, 0.88,0.05, 0.92,0.05, 1.0,0.0],
  [0,0.0, 0.05,0.05, 0.1,-0.05, 0.15,-0.15, 0.2,-0.1, 0.24,-0.6, 0.27,-1.7, 0.3,-2.1, 0.33,-1.3, 0.36,-0.3, 0.4,0.0, 0.5,0.0, 0.6,-0.05, 0.65,-0.2, 0.68,0.6, 0.71,1.5, 0.735,1.8, 0.76,1.5, 0.79,0.6, 0.83,-0.05, 0.9,-0.1, 1.0,-0.1]
];

// ---- acT1J ----
const xLabelsI = [0, 0.2, 0.4, 0.6, 0.8];
const yLabelsI = [70, 60, 50, 40, 30, 20, 10, 0, -10, -20, -30, -40, -50, -60, -70];
const accI = [
  [0,0, 0.02,5, 0.04,2, 0.06,-3, 0.08,6, 0.1,0, 0.12,-3, 0.15,4, 0.18,0, 0.2,-15, 0.22,-45, 0.245,-63, 0.26,-50, 0.28,-10, 0.3,35, 0.32,68, 0.335,55, 0.35,20, 0.37,5, 0.4,0, 0.43,3, 0.46,-4, 0.5,3, 0.53,-2, 0.56,4, 0.6,-3, 0.63,-5, 0.66,-12, 0.68,5, 0.7,25, 0.73,45, 0.745,48, 0.77,30, 0.8,0, 0.83,-35, 0.855,-51, 0.87,-40, 0.89,-15, 0.92,5, 0.95,-5, 0.97,8, 1.0,2],
  [0,0, 0.015,-10, 0.03,0, 0.045,5, 0.06,-2, 0.08,3, 0.1,-2, 0.13,2, 0.16,3, 0.18,-5, 0.2,10, 0.22,-20, 0.25,-57, 0.27,-45, 0.29,-10, 0.31,30, 0.33,54, 0.35,30, 0.37,10, 0.4,5, 0.43,2, 0.46,0, 0.5,0, 0.53,-10, 0.55,-15, 0.57,15, 0.59,5, 0.61,-5, 0.63,-12, 0.65,10, 0.67,50, 0.69,66, 0.71,55, 0.73,10, 0.75,-40, 0.77,-62, 0.79,-30, 0.81,0, 0.83,10, 0.85,-5, 0.88,0, 0.91,3, 0.93,-3, 0.95,-12, 0.97,5, 0.985,15, 1.0,2],
  [0,0, 0.03,-3, 0.06,2, 0.1,0, 0.13,3, 0.16,0, 0.19,-5, 0.22,-20, 0.25,-38, 0.265,-41, 0.28,-30, 0.3,-5, 0.32,15, 0.35,33, 0.37,25, 0.39,8, 0.42,0, 0.45,3, 0.48,-4, 0.5,-8, 0.53,0, 0.56,2, 0.6,-3, 0.63,-5, 0.66,10, 0.69,38, 0.71,25, 0.74,5, 0.77,-10, 0.8,-22, 0.83,-29, 0.85,-25, 0.88,-5, 0.91,5, 0.94,-3, 0.97,-5, 1.0,0],
  [0,0, 0.03,3, 0.06,-3, 0.1,2, 0.13,-2, 0.16,3, 0.19,-10, 0.21,-28, 0.23,-36, 0.25,-25, 0.27,5, 0.29,28, 0.31,33, 0.33,25, 0.36,8, 0.4,0, 0.45,2, 0.5,-3, 0.55,0, 0.6,-5, 0.63,-3, 0.66,15, 0.68,40, 0.7,49, 0.72,30, 0.74,-5, 0.76,-30, 0.78,-38, 0.8,-20, 0.82,-5, 0.85,-3, 0.88,0, 0.91,3, 0.95,0, 1.0,0],
  [0,0, 0.03,-2, 0.06,2, 0.1,-2, 0.13,0, 0.15,-5, 0.17,-25, 0.19,-35, 0.21,-30, 0.23,-10, 0.25,15, 0.28,30, 0.3,25, 0.32,10, 0.35,5, 0.4,2, 0.45,0, 0.5,2, 0.55,-2, 0.6,3, 0.63,0, 0.65,20, 0.67,40, 0.69,45, 0.71,20, 0.73,-10, 0.75,-30, 0.77,-28, 0.79,-15, 0.82,-5, 0.86,0, 0.9,2, 1.0,0],
  [0,0, 0.03,3, 0.06,-3, 0.1,-6, 0.13,-2, 0.15,-10, 0.17,-35, 0.19,-47, 0.21,-20, 0.23,15, 0.25,20, 0.27,26, 0.29,20, 0.31,5, 0.33,-5, 0.36,0, 0.4,2, 0.5,0, 0.6,2, 0.64,0, 0.66,20, 0.68,30, 0.7,25, 0.72,5, 0.74,-20, 0.76,-30, 0.78,-32, 0.8,-20, 0.82,-5, 0.86,0, 0.9,3, 1.0,0],
  [0,0, 0.03,0, 0.06,4, 0.09,-6, 0.12,0, 0.15,3, 0.18,0, 0.2,-5, 0.23,-15, 0.26,-30, 0.28,-35, 0.3,-20, 0.32,0, 0.34,20, 0.37,35, 0.39,25, 0.41,5, 0.43,-3, 0.46,0, 0.5,2, 0.55,0, 0.6,0, 0.65,0, 0.7,2, 0.73,0, 0.75,-3, 0.77,5, 0.79,25, 0.81,37, 0.83,39, 0.85,25, 0.87,0, 0.89,-20, 0.91,-35, 0.93,-40, 0.95,-25, 0.97,-5, 1.0,0],
  [0,0, 0.05,0, 0.1,2, 0.15,0, 0.2,0, 0.25,0, 0.28,-2, 0.3,-10, 0.32,-30, 0.34,-43, 0.36,-38, 0.38,-15, 0.4,10, 0.42,25, 0.44,36, 0.46,25, 0.48,5, 0.5,0, 0.55,3, 0.6,0, 0.65,0, 0.69,3, 0.71,15, 0.73,40, 0.755,51, 0.78,35, 0.8,0, 0.82,-30, 0.84,-46, 0.86,-30, 0.88,-5, 0.92,3, 1.0,0],
  [0,0, 0.02,7, 0.05,3, 0.08,-3, 0.1,0, 0.13,5, 0.16,0, 0.19,-12, 0.22,-40, 0.24,-55, 0.26,-40, 0.28,-5, 0.3,25, 0.32,30, 0.34,25, 0.37,10, 0.4,0, 0.45,2, 0.5,-2, 0.55,0, 0.6,-3, 0.65,-5, 0.68,10, 0.7,30, 0.72,40, 0.74,25, 0.77,0, 0.8,-30, 0.82,-41, 0.84,-30, 0.87,-10, 0.9,0, 0.95,0, 1.0,0],
  [0,0, 0.03,-5, 0.06,-2, 0.1,3, 0.14,6, 0.17,0, 0.2,-15, 0.23,-35, 0.25,-42, 0.27,-30, 0.29,0, 0.31,25, 0.33,30, 0.35,20, 0.38,5, 0.42,0, 0.48,3, 0.52,-2, 0.58,2, 0.62,-5, 0.66,5, 0.69,30, 0.71,35, 0.73,20, 0.76,-5, 0.79,-25, 0.81,-33, 0.83,-25, 0.86,-8, 0.9,0, 1.0,0]
];
const colorsI = ['#e03030', '#3030c8', '#404040', '#30a830', '#88e088', '#f088f0', '#c040c0', '#88eeee', '#f08080', '#e09040'];

// ---- ACT1JG: vermelho / azul ----
const xLabelsJ = [0.2, 0.4, 0.6, 0.8];
const yLabelsJ = [60, 50, 40, 30, 20, 10, 0, -10, -20, -30, -40, -50, -60];
const accJRed = [
  [0,0, 0.02,-10, 0.04,3, 0.06,8, 0.08,2, 0.1,-3, 0.13,4, 0.16,-2, 0.19,-10, 0.21,-30, 0.235,-63, 0.25,-55, 0.27,-20, 0.29,20, 0.31,55, 0.32,67, 0.335,50, 0.35,25, 0.38,8, 0.4,0, 0.43,3, 0.46,-3, 0.5,5, 0.53,-5, 0.56,15, 0.58,5, 0.6,-5, 0.63,-10, 0.65,20, 0.67,60, 0.68,65, 0.7,50, 0.72,20, 0.74,-30, 0.76,-62, 0.78,-40, 0.8,-10, 0.83,-5, 0.86,0, 0.9,5, 0.93,-3, 0.96,-10, 1.0,-5],
  [0,0, 0.03,5, 0.06,-3, 0.1,5, 0.13,0, 0.16,-5, 0.19,-20, 0.215,-45, 0.235,-52, 0.26,-30, 0.28,0, 0.3,30, 0.32,53, 0.34,40, 0.36,20, 0.39,5, 0.42,0, 0.47,2, 0.52,0, 0.56,-5, 0.6,0, 0.63,5, 0.66,30, 0.69,45, 0.7,48, 0.72,35, 0.74,10, 0.76,-10, 0.79,-30, 0.82,-45, 0.84,-51, 0.86,-35, 0.88,-5, 0.9,3, 0.95,0, 1.0,-3],
  [0,0, 0.03,-3, 0.06,5, 0.1,0, 0.15,3, 0.2,0, 0.23,-10, 0.26,-25, 0.28,-36, 0.3,-25, 0.32,0, 0.35,20, 0.37,30, 0.39,15, 0.42,5, 0.45,0, 0.5,-2, 0.55,-5, 0.58,-13, 0.6,-5, 0.63,0, 0.66,0, 0.7,2, 0.74,-5, 0.77,5, 0.8,25, 0.82,35, 0.84,39, 0.86,25, 0.88,0, 0.9,-25, 0.92,-40, 0.94,-35, 0.96,-10, 0.98,8, 1.0,0],
  [0,0, 0.03,3, 0.06,-4, 0.1,2, 0.13,5, 0.16,-3, 0.19,-15, 0.22,-35, 0.24,-38, 0.26,-20, 0.28,10, 0.31,32, 0.33,28, 0.35,15, 0.38,0, 0.42,3, 0.46,-2, 0.5,3, 0.55,0, 0.6,-3, 0.63,3, 0.66,25, 0.68,35, 0.7,30, 0.72,10, 0.74,-15, 0.76,-35, 0.78,-38, 0.8,-20, 0.83,-5, 0.87,0, 0.9,3, 1.0,0],
  [0,0, 0.03,-5, 0.06,0, 0.1,-4, 0.14,3, 0.18,0, 0.2,-8, 0.23,-25, 0.26,-40, 0.28,-25, 0.3,5, 0.32,28, 0.34,30, 0.36,20, 0.39,8, 0.43,10, 0.46,5, 0.5,0, 0.55,3, 0.6,0, 0.63,-5, 0.66,10, 0.69,35, 0.71,40, 0.73,25, 0.75,5, 0.77,-20, 0.79,-35, 0.81,-28, 0.83,-10, 0.86,0, 0.9,2, 1.0,0]
];
const accJBlue = [
  [0,0, 0.03,4, 0.06,0, 0.1,-3, 0.13,3, 0.15,0, 0.17,-30, 0.19,-47, 0.21,-30, 0.23,0, 0.26,15, 0.29,25, 0.31,20, 0.33,10, 0.36,3, 0.4,0, 0.45,2, 0.5,0, 0.55,-3, 0.6,2, 0.63,0, 0.66,20, 0.68,38, 0.7,30, 0.72,5, 0.74,-15, 0.77,-30, 0.8,-35, 0.82,-20, 0.85,-5, 0.88,0, 0.92,3, 1.0,0],
  [0,0, 0.03,2, 0.06,-3, 0.1,0, 0.13,5, 0.17,-5, 0.2,-20, 0.235,-36, 0.26,-25, 0.28,0, 0.31,20, 0.34,33, 0.36,28, 0.38,15, 0.4,5, 0.45,0, 0.5,3, 0.55,-3, 0.6,0, 0.63,5, 0.66,25, 0.69,40, 0.7,48, 0.72,30, 0.74,0, 0.77,-20, 0.81,-30, 0.83,-25, 0.86,-5, 0.9,3, 1.0,0],
  [0,0, 0.05,0, 0.1,2, 0.15,0, 0.2,0, 0.25,-2, 0.28,0, 0.3,-5, 0.32,-30, 0.34,-44, 0.36,-35, 0.38,-5, 0.4,20, 0.42,30, 0.44,36, 0.46,20, 0.48,5, 0.5,0, 0.55,3, 0.6,0, 0.64,-8, 0.67,0, 0.7,20, 0.73,51, 0.75,40, 0.77,10, 0.79,-25, 0.8,-40, 0.82,-45, 0.84,-30, 0.87,-5, 0.9,3, 1.0,0],
  [0,0, 0.03,-3, 0.06,3, 0.1,0, 0.13,-4, 0.16,0, 0.2,-15, 0.23,-35, 0.255,-41, 0.27,-25, 0.29,0, 0.31,18, 0.33,22, 0.35,15, 0.38,5, 0.42,0, 0.48,3, 0.52,0, 0.57,2, 0.6,-5, 0.64,0, 0.67,25, 0.7,40, 0.72,47, 0.74,30, 0.76,0, 0.78,-20, 0.8,-34, 0.82,-25, 0.85,-5, 0.9,3, 1.0,0],
  [0,0, 0.03,5, 0.06,0, 0.1,3, 0.13,-2, 0.17,2, 0.2,-10, 0.22,-25, 0.24,-33, 0.26,-20, 0.28,5, 0.3,25, 0.32,30, 0.34,25, 0.36,20, 0.39,8, 0.43,0, 0.5,2, 0.55,0, 0.6,3, 0.64,-5, 0.67,15, 0.69,30, 0.71,32, 0.73,15, 0.75,-5, 0.78,-25, 0.8,-30, 0.82,-20, 0.85,-5, 0.9,2, 1.0,0]
];
const RED_T = 'rgba(240,70,70,0.65)';
const BLUE_T = 'rgba(70,70,230,0.6)';

// ---------------------------------------------------------------------------

const TICK_FONT = { family: "'DejaVu Sans Mono', monospace", size: 6.5, weight: 'bold' };
const MENU_HTML = '<b>A</b>rquivo <b>E</b>dição A<b>q</b>uisição A<b>n</b>álise <b>P</b>rocessamento <b>G</b>ráfico A<b>j</b>uda';
const GRID_COLOR = '#c4c4c4';
const TICK_COLOR = '#8a8a8a';
const NONE = 'rgba(0,0,0,0)';

function toPoints(flat, dy) {
  const pts = [];
  for (let i = 0; i < flat.length; i += 2) pts.push({ x: flat[i], y: flat[i + 1] + (dy || 0) });
  return pts;
}

function lines(curves, colors, dy) {
  return curves.map((c, i) => ({
    data: toPoints(c, dy),
    borderColor: Array.isArray(colors) ? colors[i % colors.length] : colors
  }));
}

function gridValues(min, max, step) {
  const out = [];
  const k0 = Math.ceil(min / step - 1e-9), k1 = Math.floor(max / step + 1e-9);
  for (let k = k0; k <= k1; k++) out.push(Math.round(k * step * 1e6) / 1e6);
  return out;
}

const has = (list, v) => list.some(t => Math.abs(t - v) < 1e-6);

function labelFor(v, vals, texts) {
  const i = vals.findIndex(t => Math.abs(t - v) < 1e-6);
  if (i < 0) return '';
  return texts ? texts[i] : String(vals[i]);
}

// ticks = grid lines plus labelled values; labels that fall between
// grid lines get a tick mark but no line across the plot
function axisTicks(grid, labels) {
  const all = grid.slice();
  labels.forEach(v => { if (!has(all, v)) all.push(v); });
  return all.sort((a, b) => a - b);
}

const LEFT = 12, RIGHT = 439;

const panels = [
  { col: LEFT, menuTop: 11, file: 'c:/pianof/resx/FT1J.SAD', plot: [52, 27, 401, 278],
    xr: [0, 2.493], yr: [-0.2579, 0.0222], xStep: 0.2, yStep: 0.02,
    xLabels: xLabelsA, yLabels: yLabelsA, yTitle: 'comprimento (m)', letter: 'a', letterAt: [381, 25],
    sets: lines(lenA, colorsA) },
  { col: RIGHT, menuTop: 11, file: 'c:/pianof/resx/FTn1J.SAD', plot: [481, 27, 830, 283],
    xr: [0, 1.067], yr: [-0.2552, 0.0233], xStep: 0.05, yStep: 0.02,
    xLabels: xLabelsB, yLabels: yLabelsB, yTitle: 'comprimento (m)', letter: 'b', letterAt: [808, 23],
    sets: lines(lenB, colorsB) },
  { col: LEFT, menuTop: 330, file: 'c:/pianof/resx/FT1NJG.SAD', plot: [52, 346, 401, 596],
    xr: [-0.007, 1.2], yr: [-0.2578, 0.0199], xStep: 1 / 18, yStep: 0.02,
    xLabels: xLabelsC, yLabels: yLabelsC, yTitle: 'comprimento (m)', letter: 'c', letterAt: [381, 342],
    sets: lines(lenC, colorsC) },
  { col: RIGHT, menuTop: 330, file: 'c:/pianof/resx/XFDV1G.SAD', plot: [481, 346, 830, 596],
    xr: [0, 1.087], yr: [-0.614, 0.1087], xStep: 0.05, yStep: 0.05,
    xLabels: xLabelsD, yLabels: yTicksD, yText: yTextD, yTitle: 'comprimento (m)', letter: 'd', letterAt: [805, 354],
    sets: lines(lenDUpper, colorsDUpper).concat(lines(lenDLower, colorsDLower, GROUP_SHIFT)) },
  { col: LEFT, menuTop: 648, file: 'c:/pianof/resx/XFDV1.SAD', plot: [52, 663, 401, 915],
    xr: [-0.01, 1.19], yr: [-0.624, 0.104], xStep: 1 / 18, yStep: 0.05,
    xLabels: xLabelsE, yLabels: yTicksE, yText: yTextE, yTitle: 'comprimento (m)', letter: 'e', letterAt: [371, 664],
    sets: lines(lenEUpper, colorsEUpper).concat(lines(lenELower, colorsELower, GROUP_SHIFT)) },
  { col: RIGHT, menuTop: 650, file: 'c:/pianof/resx/FT1N.SAD', plot: [479, 665, 830, 916],
    xr: [-0.054, 1.064], yr: [-0.64, 12.63], noGrid: true,
    xLabels: xLabelsF, yLabels: yTicksF, yText: yTextF, yTitle: 'comprimento (m)', letter: 'f', letterAt: [810, 662],
    sets: lines(lenF, colorsF) },
  { col: LEFT, menuTop: 969, file: 'c:/pianof/resx/veT1J.SAD', plot: [52, 985, 399, 1236],
    xr: [0, 1.064], yr: [-3.0, 3.33], xStep: 0.05, yStep: 0.4,
    xLabels: xLabelsG, yLabels: yLabelsG, yTitle: 'velocidade (m/s)', letter: 'g', letterAt: [379, 980],
    sets: lines(velG, colorsG) },
  { col: RIGHT, menuTop: 969, file: 'c:/pianof/resx/veT1Jg.SAD', plot: [480, 984, 830, 1236],
    xr: [0, 1.006], yr: [-2.894, 3.035], xStep: 0.04, yStep: 0.4,
    xLabels: xLabelsH, yLabels: yLabelsH, yTitle: 'velocidade (m/s)', letter: 'h', letterAt: [806, 982],
    sets: lines(velHRed, RED_T).concat(lines(velHBlue, BLUE_T)) },
  { col: LEFT, menuTop: 1288, file: 'c:/pianof/resx/acT1J.SAD', plot: [52, 1304, 400, 1555],
    xr: [0, 1.067], yr: [-73.2, 79.5], xStep: 0.05, yStep: 10,
    xLabels: xLabelsI, yLabels: yLabelsI, yTitle: 'velocidade (m/s)', letter: 'i', letterAt: [385, 1309],
    sets: lines(accI, colorsI) },
  { col: RIGHT, menuTop: 1288, file: 'c:/pianof/resx/ACT1JG.SAD', plot: [480, 1304, 830, 1555],
    xr: [0, 1.006], yr: [-64.2, 67.9], xStep: 0.04, yStep: 10,
    xLabels: xLabelsJ, yLabels: yLabelsJ, yTitle: 'velocidade (m/s)', letter: 'j', letterAt: [806, 1307],
    sets: lines(accJRed, RED_T).concat(lines(accJBlue, BLUE_T)) }
];

function addDiv(cls, left, top, html) {
  const d = document.createElement('div');
  d.className = cls;
  d.style.left = left + 'px';
  d.style.top = top + 'px';
  d.innerHTML = html;
  document.body.appendChild(d);
  return d;
}

const Y_AXIS_W = 48, X_AXIS_H = 14, PAD_TOP = 8;

panels.forEach(p => {
  const [pl, pt, pr, pb] = p.plot;

  addDiv('menu', p.col, p.menuTop, MENU_HTML);
  addDiv('file', p.col, p.menuTop + 6, p.file);

  const canvas = document.createElement('canvas');
  const cl = pl - Y_AXIS_W, ct = pt - PAD_TOP;
  canvas.width = pr - cl;
  canvas.height = pb + X_AXIS_H - ct;
  canvas.style.left = cl + 'px';
  canvas.style.top = ct + 'px';
  document.body.appendChild(canvas);

  const xGrid = p.noGrid ? [] : gridValues(p.xr[0], p.xr[1], p.xStep);
  const yGrid = p.noGrid ? [] : gridValues(p.yr[0], p.yr[1], p.yStep);
  const xTicks = axisTicks(xGrid, p.xLabels.filter(v => v >= p.xr[0] && v <= p.xr[1]));
  const yTicks = axisTicks(yGrid, p.yLabels.filter(v => v >= p.yr[0] && v <= p.yr[1]));

  const gridFor = list => ({
    lineWidth: 1, drawOnChartArea: !p.noGrid, drawTicks: true, tickLength: 2,
    color: ctx => (ctx.tick && has(list, ctx.tick.value)) ? GRID_COLOR : NONE,
    tickColor: TICK_COLOR
  });
  const border = { display: true, color: '#8f8f8f', width: 2 };

  new Chart(canvas, {
    type: 'line',
    data: { datasets: p.sets },
    options: {
      responsive: false,
      animation: false,
      devicePixelRatio: 1,
      layout: { padding: { top: PAD_TOP, left: 0, right: 0, bottom: 0 } },
      elements: {
        line: { borderWidth: 1, fill: false, cubicInterpolationMode: 'monotone' },
        point: { radius: 0 }
      },
      plugins: { legend: { display: false }, tooltip: { enabled: false } },
      scales: {
        x: {
          type: 'linear', min: p.xr[0], max: p.xr[1],
          afterFit: s => { s.height = X_AXIS_H; },
          afterBuildTicks: s => { s.ticks = xTicks.map(v => ({ value: v })); },
          ticks: { autoSkip: false, maxRotation: 0, padding: 0, font: TICK_FONT, color: '#1a1a1a',
                   callback: v => labelFor(v, p.xLabels) },
          grid: gridFor(xGrid), border: border
        },
        y: {
          type: 'linear', min: p.yr[0], max: p.yr[1],
          afterFit: s => { s.width = Y_AXIS_W; },
          afterBuildTicks: s => { s.ticks = yTicks.map(v => ({ value: v })); },
          ticks: { autoSkip: false, padding: 1, font: TICK_FONT, color: '#1a1a1a',
                   callback: v => labelFor(v, p.yLabels, p.yText) },
          grid: gridFor(yGrid), border: border
        }
      }
    }
  });

  // axis titles sit at fixed places in each window
  const xt = addDiv('xtitle', 0, pb + 9, 'tempo normalizado');
  xt.style.left = (p.col + 195 - xt.offsetWidth / 2) + 'px';
  const yt = addDiv('ytitle', 0, 0, p.yTitle);
  const cy = (pt + pb) / 2;
  yt.style.left = (p.col + 3 - yt.offsetWidth / 2 + 4) + 'px';
  yt.style.top = (cy - 4) + 'px';
  yt.style.transform = 'rotate(-90deg)';

  addDiv('letter', p.letterAt[0], p.letterAt[1], p.letter);
});
</script>
</body>
</html>
